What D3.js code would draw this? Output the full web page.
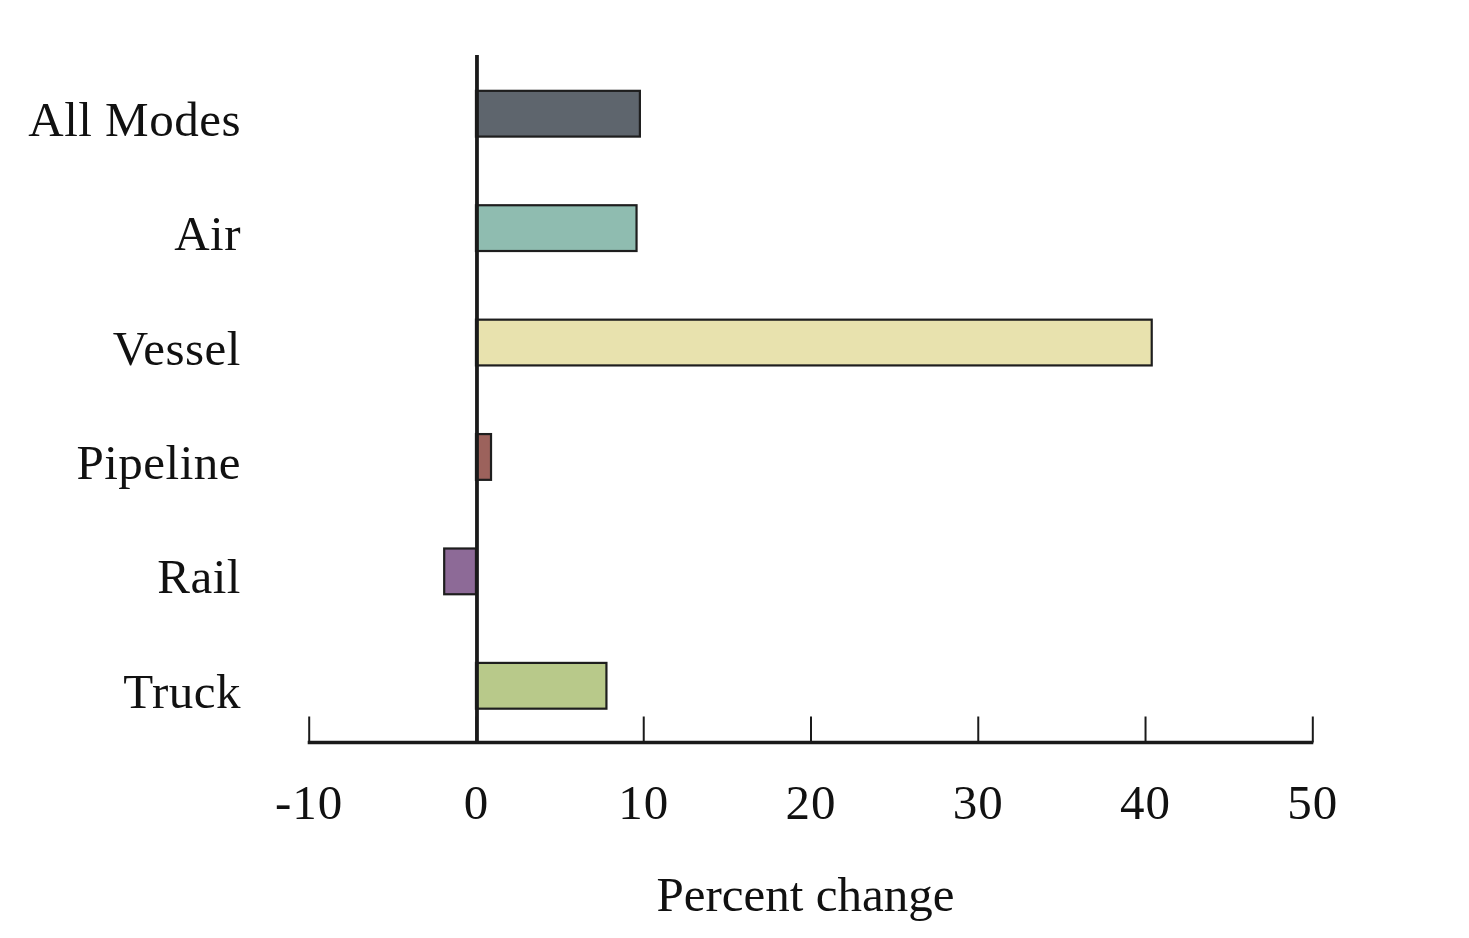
<!DOCTYPE html>
<html><head><meta charset="utf-8">
<script src="https://cdn.jsdelivr.net/npm/d3@7"></script>
<style>html,body{margin:0;padding:0;background:#fff;}svg{display:block;}</style>
</head><body>
<svg id="chart" width="1469" height="938"></svg>
<script>
const categories = ["All Modes", "Air", "Vessel", "Pipeline", "Rail", "Truck"];
const values = [9.8, 9.6, 40.4, 0.9, -1.9, 7.8];
const colors = ["#5e656d", "#8fbcb0", "#e8e2ae", "#9c625c", "#8d6a97", "#b8c98a"];
const tickValues = [-10, 0, 10, 20, 30, 40, 50];
const xTitle = "Percent change";

const svg = d3.select("#chart");
const font = "'Liberation Serif', 'Times New Roman', serif";

const x = d3.scaleLinear().domain([-10, 50]).range([308.7, 1312.3]);
const y = d3.scaleBand().domain(categories).range([56.5, 743]).paddingInner(0.6).paddingOuter(0.3);

// bars
svg.append("g").selectAll("rect").data(categories).join("rect")
  .attr("x", (d, i) => x(Math.min(0, values[i])))
  .attr("width", (d, i) => Math.abs(x(values[i]) - x(0)))
  .attr("y", d => y(d))
  .attr("height", y.bandwidth())
  .attr("fill", (d, i) => colors[i])
  .attr("stroke", "#1e1e1e")
  .attr("stroke-width", 2.2);

// x axis
const xAxis = d3.axisBottom(x).tickValues(tickValues).tickSize(0).tickPadding(0).tickFormat(d => String(d));
const gx = svg.append("g").attr("transform", "translate(0,742.5)").call(xAxis);
gx.select(".domain").remove();
gx.append("line").attr("x1", x(-10) - 1).attr("x2", x(50) + 1).attr("y1", 0).attr("y2", 0)
  .attr("stroke", "#1a1a1a").attr("stroke-width", 3.5);
gx.selectAll(".tick").append("line").attr("y1", 0).attr("y2", -26)
  .attr("stroke", "#1a1a1a").attr("stroke-width", 2);
gx.selectAll(".tick text").attr("y", 76).attr("dy", 0)
  .attr("font-family", font).attr("font-size", 49).attr("fill", "#111")
  .attr("letter-spacing", 1);

// vertical zero line
svg.append("line").attr("x1", x(0) + 1).attr("x2", x(0) + 1).attr("y1", 55).attr("y2", 744)
  .attr("stroke", "#1a1a1a").attr("stroke-width", 3.8);

// category labels
svg.append("g").selectAll("text").data(categories).join("text")
  .attr("x", 241)
  .attr("y", d => y(d) + y.bandwidth() / 2 + 22)
  .attr("text-anchor", "end")
  .attr("font-family", font).attr("font-size", 49).attr("fill", "#111")
  .attr("letter-spacing", 0.5)
  .text(d => d);

// x title
svg.append("text").attr("x", 805.5).attr("y", 911).attr("text-anchor", "middle")
  .attr("font-family", font).attr("font-size", 49).attr("fill", "#111").text(xTitle);
</script>
</body></html>
